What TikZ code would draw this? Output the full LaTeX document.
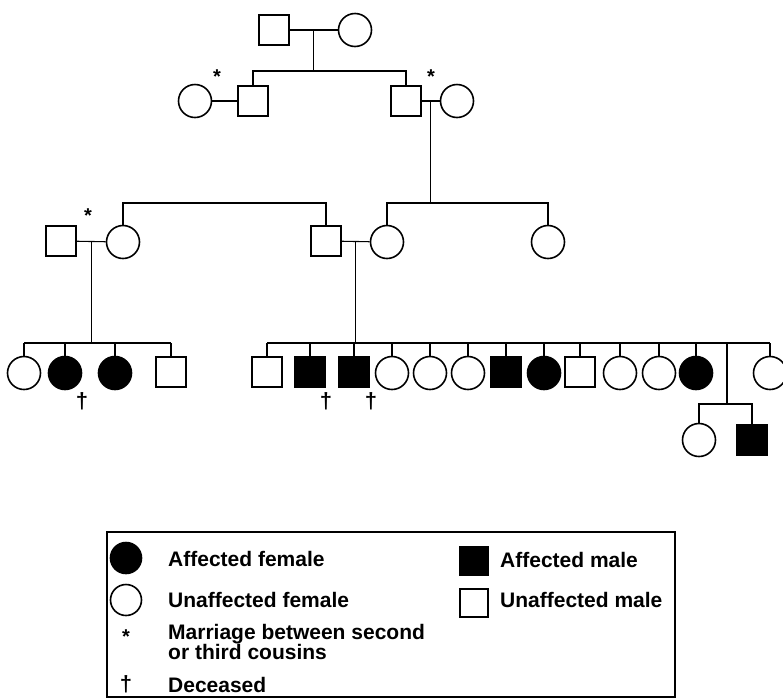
\documentclass[tikz,border=0pt]{standalone}
\usepackage{fontspec}
\setmainfont{Liberation Sans}
\usetikzlibrary{positioning,calc}

\begin{document}
\begin{tikzpicture}[x=1pt,y=-1pt,
male/.style={
  draw,
  rectangle,
  line width=1.6pt,
  minimum size=30pt,
  inner sep=0pt},
female/.style={
  draw,
  circle,
  line width=1.6pt,
  minimum size=33pt,
  inner sep=0pt},
affected/.style={fill=black},
link/.style={line width=1.1pt},
cousins/.style={font=\bfseries\fontsize{20}{20}\selectfont,inner sep=0pt},
deceased/.style={font=\bfseries\fontsize{22}{22}\selectfont,inner sep=0pt},
keytext/.style={font=\bfseries\fontsize{21}{16}\selectfont,anchor=base west,align=left,inner sep=0pt}
]
\useasboundingbox (0,0) rectangle (783,697);
% generation I and II
\node[male] (I1) at (274,30) {};
\node[female] (I2) at (355,30) {};
\node[female] (II1) at (195,101) {};
\node[male] (II2) at (253,101) {};
\node[male] (II3) at (406,101) {};
\node[female] (II4) at (457,101) {};
% generation III
\node[male] (III1) at (61,241) {};
\node[female] (III2) at (123,242) {};
\node[male] (III3) at (326,241) {};
\node[female] (III4) at (387,242) {};
\node[female] (III5) at (548,242) {};
% generation IV
\node[female] (IVa) at (24,373) {};
\node[female,affected] (IVb) at (65,373) {};
\node[female,affected] (IVc) at (115,373) {};
\node[male] (IVd) at (171,372) {};
\node[male] (IVe) at (267,372) {};
\node[male,affected] (IVf) at (310,372) {};
\node[male,affected] (IVg) at (354,372) {};
\node[female] (IVh) at (392,373) {};
\node[female] (IVi) at (430,373) {};
\node[female] (IVj) at (468,373) {};
\node[male,affected] (IVk) at (506,372) {};
\node[female,affected] (IVl) at (544,373) {};
\node[male] (IVm) at (580,372) {};
\node[female] (IVn) at (620,373) {};
\node[female] (IVo) at (659,373) {};
\node[female,affected] (IVp) at (696,373) {};
\node[female] (IVq) at (770,373) {};
\coordinate (IVx) at (727,343);
% generation V
\node[female] (V1) at (699,440) {};
\node[male,affected] (V2) at (752,440) {};

% sibship levels
\coordinate (s1) at (0,71);
\coordinate (s3) at (0,203);
\coordinate (s4) at (0,343);
\coordinate (s5) at (0,404);

\draw[link] (I1) -- (I2) coordinate[midway] (m1);
\draw[link] (m1) -- (m1 |- s1);
\draw[link] (II2.north) -- (II2.north |- s1) -- (II3.north |- s1) -- (II3.north);
\draw[link] (II1) -- (II2);
\draw[link] (II3) -- (II4) coordinate[midway] (m2);
\draw[link] (m2) -- (m2 |- s3);
\draw[link] (III4.north) -- (III4.north |- s3) -- (III5.north |- s3) -- (III5.north);
\draw[link] (III2.north) -- (III2.north |- s3) -- (III3.north |- s3) -- (III3.north);
\draw[link] (III1) -- (III2) coordinate[midway] (m3);
\draw[link] (m3) -- (m3 |- s4);
\draw[link] (IVa.north |- s4) -- (IVd.north |- s4);
\foreach \Kid in {IVa,IVb,IVc,IVd}
  \draw[link] (\Kid.north) -- (\Kid.north |- s4);
\draw[link] (III3) -- (III4) coordinate[midway] (m4);
\draw[link] (m4) -- (m4 |- s4);
\draw[link] (IVe.north |- s4) -- (IVq.north |- s4);
\foreach \Kid in {IVe,IVf,IVg,IVh,IVi,IVj,IVk,IVl,IVm,IVn,IVo,IVp,IVq}
  \draw[link] (\Kid.north) -- (\Kid.north |- s4);
\draw[link] (IVx) -- (IVx |- s5);
\draw[link] (V1.north) -- (V1.north |- s5) -- (V2.north |- s5) -- (V2.north);

% consanguinity and deaths
\node[cousins] at (217,77) {*};
\node[cousins] at (431,77) {*};
\node[cousins] at (88,216) {*};
\node[deceased] at (82,401) {†};
\node[deceased] at (326,401) {†};
\node[deceased] at (371,401) {†};

% key
\draw[link] (107,532) rectangle (675,697);
\node[female,affected,minimum size=31pt] (kAF) at (126,558) {};
\node[female,minimum size=31pt] (kUF) at (126,600) {};
\node[cousins] (kC) at (126,637) {*};
\node[deceased] (kD) at (126,684) {†};
\node[male,affected,minimum size=28pt] (kAM) at (474,561) {};
\node[male,minimum size=28pt] (kUM) at (474,603) {};
\node[keytext] at (168,566) {Affected female};
\node[keytext] at (168,607) {Unaffected female};
\node[keytext,anchor=west] at (168,642) {Marriage between second\\or third cousins};
\node[keytext] at (168,692) {Deceased};
\node[keytext] at (500,567) {Affected male};
\node[keytext] at (500,607) {Unaffected male};
\end{tikzpicture}
\end{document}
